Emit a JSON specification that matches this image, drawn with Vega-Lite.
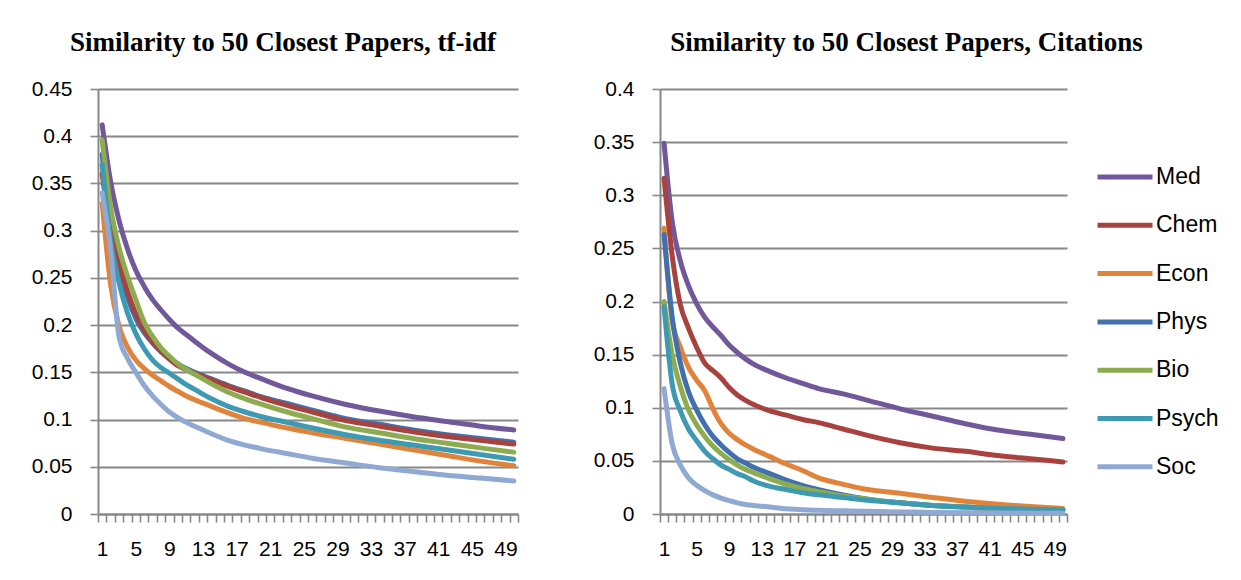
{
"$schema":"https://vega.github.io/schema/vega-lite/v6.json",
"padding":{"left":31,"top":29,"right":0,"bottom":0},
"background":"white",
"spacing":74,
"resolve":{"scale":{"color":"independent"},"legend":{"color":"independent"}},
"config":{
 "font":"Liberation Sans",
 "view":{"stroke":null},
 "axis":{"labelFont":"Liberation Sans","labelFontSize":21,"labelColor":"#000","gridColor":"#888","gridWidth":1.8,"domainColor":"#888","domainWidth":2,"tickColor":"#888","tickWidth":1.6,"title":null},
 "title":{"font":"Liberation Serif","fontSize":27,"fontWeight":"bold","color":"#000"}
},
"datasets":{
"tfidf":[
{"s":"Phys","r":1,"v":0.381},{"s":"Phys","r":2,"v":0.305},{"s":"Phys","r":3,"v":0.262},{"s":"Phys","r":4,"v":0.230},{"s":"Phys","r":5,"v":0.207},{"s":"Phys","r":6,"v":0.192},{"s":"Phys","r":7,"v":0.181},{"s":"Phys","r":8,"v":0.172},{"s":"Phys","r":9,"v":0.165},{"s":"Phys","r":10,"v":0.159},{"s":"Phys","r":11,"v":0.154},{"s":"Phys","r":12,"v":0.150},{"s":"Phys","r":14,"v":0.143},{"s":"Phys","r":16,"v":0.136},{"s":"Phys","r":18,"v":0.130},{"s":"Phys","r":20,"v":0.124},{"s":"Phys","r":23,"v":0.117},{"s":"Phys","r":26,"v":0.110},{"s":"Phys","r":30,"v":0.101},{"s":"Phys","r":34,"v":0.095},{"s":"Phys","r":38,"v":0.089},{"s":"Phys","r":42,"v":0.084},{"s":"Phys","r":46,"v":0.080},{"s":"Phys","r":50,"v":0.076},
{"s":"Med","r":1,"v":0.412},{"s":"Med","r":2,"v":0.352},{"s":"Med","r":3,"v":0.311},{"s":"Med","r":4,"v":0.281},{"s":"Med","r":5,"v":0.258},{"s":"Med","r":6,"v":0.241},{"s":"Med","r":7,"v":0.227},{"s":"Med","r":8,"v":0.216},{"s":"Med","r":9,"v":0.206},{"s":"Med","r":10,"v":0.197},{"s":"Med","r":11,"v":0.190},{"s":"Med","r":12,"v":0.183},{"s":"Med","r":14,"v":0.170},{"s":"Med","r":16,"v":0.159},{"s":"Med","r":18,"v":0.150},{"s":"Med","r":20,"v":0.143},{"s":"Med","r":23,"v":0.133},{"s":"Med","r":26,"v":0.125},{"s":"Med","r":30,"v":0.116},{"s":"Med","r":34,"v":0.109},{"s":"Med","r":38,"v":0.103},{"s":"Med","r":42,"v":0.098},{"s":"Med","r":46,"v":0.093},{"s":"Med","r":50,"v":0.089},
{"s":"Chem","r":1,"v":0.360},{"s":"Chem","r":2,"v":0.300},{"s":"Chem","r":3,"v":0.266},{"s":"Chem","r":4,"v":0.236},{"s":"Chem","r":5,"v":0.212},{"s":"Chem","r":6,"v":0.195},{"s":"Chem","r":7,"v":0.182},{"s":"Chem","r":8,"v":0.172},{"s":"Chem","r":9,"v":0.164},{"s":"Chem","r":10,"v":0.157},{"s":"Chem","r":11,"v":0.153},{"s":"Chem","r":12,"v":0.149},{"s":"Chem","r":14,"v":0.142},{"s":"Chem","r":16,"v":0.135},{"s":"Chem","r":18,"v":0.129},{"s":"Chem","r":20,"v":0.123},{"s":"Chem","r":23,"v":0.115},{"s":"Chem","r":26,"v":0.108},{"s":"Chem","r":30,"v":0.099},{"s":"Chem","r":34,"v":0.093},{"s":"Chem","r":38,"v":0.087},{"s":"Chem","r":42,"v":0.082},{"s":"Chem","r":46,"v":0.078},{"s":"Chem","r":50,"v":0.074},
{"s":"Econ","r":1,"v":0.329},{"s":"Econ","r":2,"v":0.243},{"s":"Econ","r":3,"v":0.199},{"s":"Econ","r":4,"v":0.177},{"s":"Econ","r":5,"v":0.163},{"s":"Econ","r":6,"v":0.154},{"s":"Econ","r":7,"v":0.147},{"s":"Econ","r":8,"v":0.141},{"s":"Econ","r":9,"v":0.135},{"s":"Econ","r":10,"v":0.130},{"s":"Econ","r":11,"v":0.125},{"s":"Econ","r":12,"v":0.121},{"s":"Econ","r":14,"v":0.114},{"s":"Econ","r":16,"v":0.107},{"s":"Econ","r":18,"v":0.101},{"s":"Econ","r":20,"v":0.097},{"s":"Econ","r":23,"v":0.091},{"s":"Econ","r":26,"v":0.086},{"s":"Econ","r":30,"v":0.080},{"s":"Econ","r":34,"v":0.074},{"s":"Econ","r":38,"v":0.068},{"s":"Econ","r":42,"v":0.062},{"s":"Econ","r":46,"v":0.056},{"s":"Econ","r":50,"v":0.0512},
{"s":"Bio","r":1,"v":0.396},{"s":"Bio","r":2,"v":0.325},{"s":"Bio","r":3,"v":0.282},{"s":"Bio","r":4,"v":0.252},{"s":"Bio","r":5,"v":0.227},{"s":"Bio","r":6,"v":0.203},{"s":"Bio","r":7,"v":0.188},{"s":"Bio","r":8,"v":0.176},{"s":"Bio","r":9,"v":0.167},{"s":"Bio","r":10,"v":0.159},{"s":"Bio","r":11,"v":0.153},{"s":"Bio","r":12,"v":0.148},{"s":"Bio","r":14,"v":0.138},{"s":"Bio","r":16,"v":0.129},{"s":"Bio","r":18,"v":0.122},{"s":"Bio","r":20,"v":0.116},{"s":"Bio","r":23,"v":0.108},{"s":"Bio","r":26,"v":0.101},{"s":"Bio","r":30,"v":0.092},{"s":"Bio","r":34,"v":0.086},{"s":"Bio","r":38,"v":0.080},{"s":"Bio","r":42,"v":0.075},{"s":"Bio","r":46,"v":0.070},{"s":"Bio","r":50,"v":0.0655},
{"s":"Psych","r":1,"v":0.370},{"s":"Psych","r":2,"v":0.290},{"s":"Psych","r":3,"v":0.245},{"s":"Psych","r":4,"v":0.213},{"s":"Psych","r":5,"v":0.191},{"s":"Psych","r":6,"v":0.175},{"s":"Psych","r":7,"v":0.163},{"s":"Psych","r":8,"v":0.155},{"s":"Psych","r":9,"v":0.149},{"s":"Psych","r":10,"v":0.143},{"s":"Psych","r":11,"v":0.137},{"s":"Psych","r":12,"v":0.132},{"s":"Psych","r":14,"v":0.122},{"s":"Psych","r":16,"v":0.114},{"s":"Psych","r":18,"v":0.108},{"s":"Psych","r":20,"v":0.103},{"s":"Psych","r":23,"v":0.097},{"s":"Psych","r":26,"v":0.091},{"s":"Psych","r":30,"v":0.084},{"s":"Psych","r":34,"v":0.078},{"s":"Psych","r":38,"v":0.073},{"s":"Psych","r":42,"v":0.068},{"s":"Psych","r":46,"v":0.063},{"s":"Psych","r":50,"v":0.058},
{"s":"Soc","r":1,"v":0.340},{"s":"Soc","r":2,"v":0.280},{"s":"Soc","r":3,"v":0.188},{"s":"Soc","r":4,"v":0.165},{"s":"Soc","r":5,"v":0.150},{"s":"Soc","r":6,"v":0.136},{"s":"Soc","r":7,"v":0.125},{"s":"Soc","r":8,"v":0.116},{"s":"Soc","r":9,"v":0.108},{"s":"Soc","r":10,"v":0.102},{"s":"Soc","r":11,"v":0.097},{"s":"Soc","r":12,"v":0.093},{"s":"Soc","r":14,"v":0.085},{"s":"Soc","r":16,"v":0.078},{"s":"Soc","r":18,"v":0.073},{"s":"Soc","r":20,"v":0.069},{"s":"Soc","r":23,"v":0.064},{"s":"Soc","r":26,"v":0.059},{"s":"Soc","r":30,"v":0.054},{"s":"Soc","r":34,"v":0.049},{"s":"Soc","r":38,"v":0.045},{"s":"Soc","r":42,"v":0.041},{"s":"Soc","r":46,"v":0.038},{"s":"Soc","r":50,"v":0.035}
],
"cit":[
{"s":"Med","r":1,"v":0.349},{"s":"Med","r":2,"v":0.275},{"s":"Med","r":3,"v":0.238},{"s":"Med","r":4,"v":0.215},{"s":"Med","r":5,"v":0.198},{"s":"Med","r":6,"v":0.185},{"s":"Med","r":7,"v":0.176},{"s":"Med","r":8,"v":0.168},{"s":"Med","r":9,"v":0.159},{"s":"Med","r":10,"v":0.152},{"s":"Med","r":11,"v":0.146},{"s":"Med","r":12,"v":0.141},{"s":"Med","r":14,"v":0.134},{"s":"Med","r":16,"v":0.128},{"s":"Med","r":18,"v":0.123},{"s":"Med","r":20,"v":0.118},{"s":"Med","r":23,"v":0.113},{"s":"Med","r":26,"v":0.107},{"s":"Med","r":30,"v":0.099},{"s":"Med","r":34,"v":0.092},{"s":"Med","r":38,"v":0.085},{"s":"Med","r":42,"v":0.079},{"s":"Med","r":46,"v":0.075},{"s":"Med","r":50,"v":0.071},
{"s":"Chem","r":1,"v":0.316},{"s":"Chem","r":2,"v":0.243},{"s":"Chem","r":3,"v":0.197},{"s":"Chem","r":4,"v":0.175},{"s":"Chem","r":5,"v":0.157},{"s":"Chem","r":6,"v":0.142},{"s":"Chem","r":7,"v":0.135},{"s":"Chem","r":8,"v":0.128},{"s":"Chem","r":9,"v":0.119},{"s":"Chem","r":10,"v":0.112},{"s":"Chem","r":11,"v":0.107},{"s":"Chem","r":12,"v":0.103},{"s":"Chem","r":14,"v":0.097},{"s":"Chem","r":16,"v":0.093},{"s":"Chem","r":18,"v":0.089},{"s":"Chem","r":20,"v":0.086},{"s":"Chem","r":23,"v":0.080},{"s":"Chem","r":26,"v":0.074},{"s":"Chem","r":30,"v":0.067},{"s":"Chem","r":34,"v":0.062},{"s":"Chem","r":38,"v":0.059},{"s":"Chem","r":42,"v":0.055},{"s":"Chem","r":46,"v":0.052},{"s":"Chem","r":50,"v":0.049},
{"s":"Econ","r":1,"v":0.269},{"s":"Econ","r":2,"v":0.182},{"s":"Econ","r":3,"v":0.157},{"s":"Econ","r":4,"v":0.138},{"s":"Econ","r":5,"v":0.126},{"s":"Econ","r":6,"v":0.116},{"s":"Econ","r":7,"v":0.099},{"s":"Econ","r":8,"v":0.085},{"s":"Econ","r":9,"v":0.076},{"s":"Econ","r":10,"v":0.070},{"s":"Econ","r":11,"v":0.065},{"s":"Econ","r":12,"v":0.061},{"s":"Econ","r":14,"v":0.054},{"s":"Econ","r":16,"v":0.047},{"s":"Econ","r":18,"v":0.041},{"s":"Econ","r":20,"v":0.034},{"s":"Econ","r":23,"v":0.028},{"s":"Econ","r":26,"v":0.023},{"s":"Econ","r":30,"v":0.0195},{"s":"Econ","r":34,"v":0.0155},{"s":"Econ","r":38,"v":0.012},{"s":"Econ","r":42,"v":0.0092},{"s":"Econ","r":46,"v":0.007},{"s":"Econ","r":50,"v":0.0052},
{"s":"Phys","r":1,"v":0.263},{"s":"Phys","r":2,"v":0.185},{"s":"Phys","r":3,"v":0.142},{"s":"Phys","r":4,"v":0.115},{"s":"Phys","r":5,"v":0.098},{"s":"Phys","r":6,"v":0.084},{"s":"Phys","r":7,"v":0.073},{"s":"Phys","r":8,"v":0.065},{"s":"Phys","r":9,"v":0.058},{"s":"Phys","r":10,"v":0.052},{"s":"Phys","r":11,"v":0.048},{"s":"Phys","r":12,"v":0.044},{"s":"Phys","r":14,"v":0.038},{"s":"Phys","r":16,"v":0.032},{"s":"Phys","r":18,"v":0.027},{"s":"Phys","r":20,"v":0.023},{"s":"Phys","r":23,"v":0.018},{"s":"Phys","r":26,"v":0.014},{"s":"Phys","r":30,"v":0.0105},{"s":"Phys","r":34,"v":0.008},{"s":"Phys","r":38,"v":0.0065},{"s":"Phys","r":42,"v":0.005},{"s":"Phys","r":46,"v":0.004},{"s":"Phys","r":50,"v":0.0035},
{"s":"Bio","r":1,"v":0.200},{"s":"Bio","r":2,"v":0.150},{"s":"Bio","r":3,"v":0.120},{"s":"Bio","r":4,"v":0.098},{"s":"Bio","r":5,"v":0.084},{"s":"Bio","r":6,"v":0.073},{"s":"Bio","r":7,"v":0.064},{"s":"Bio","r":8,"v":0.057},{"s":"Bio","r":9,"v":0.051},{"s":"Bio","r":10,"v":0.046},{"s":"Bio","r":11,"v":0.042},{"s":"Bio","r":12,"v":0.039},{"s":"Bio","r":14,"v":0.033},{"s":"Bio","r":16,"v":0.028},{"s":"Bio","r":18,"v":0.024},{"s":"Bio","r":20,"v":0.021},{"s":"Bio","r":23,"v":0.017},{"s":"Bio","r":26,"v":0.014},{"s":"Bio","r":30,"v":0.0105},{"s":"Bio","r":34,"v":0.008},{"s":"Bio","r":38,"v":0.0065},{"s":"Bio","r":42,"v":0.005},{"s":"Bio","r":46,"v":0.004},{"s":"Bio","r":50,"v":0.0035},
{"s":"Psych","r":1,"v":0.195},{"s":"Psych","r":2,"v":0.122},{"s":"Psych","r":3,"v":0.097},{"s":"Psych","r":4,"v":0.080},{"s":"Psych","r":5,"v":0.069},{"s":"Psych","r":6,"v":0.059},{"s":"Psych","r":7,"v":0.052},{"s":"Psych","r":8,"v":0.046},{"s":"Psych","r":9,"v":0.042},{"s":"Psych","r":10,"v":0.038},{"s":"Psych","r":11,"v":0.035},{"s":"Psych","r":12,"v":0.031},{"s":"Psych","r":14,"v":0.026},{"s":"Psych","r":16,"v":0.023},{"s":"Psych","r":18,"v":0.020},{"s":"Psych","r":20,"v":0.018},{"s":"Psych","r":23,"v":0.0155},{"s":"Psych","r":26,"v":0.013},{"s":"Psych","r":30,"v":0.0105},{"s":"Psych","r":34,"v":0.008},{"s":"Psych","r":38,"v":0.0065},{"s":"Psych","r":42,"v":0.0052},{"s":"Psych","r":46,"v":0.0045},{"s":"Psych","r":50,"v":0.004},
{"s":"Soc","r":1,"v":0.118},{"s":"Soc","r":2,"v":0.066},{"s":"Soc","r":3,"v":0.046},{"s":"Soc","r":4,"v":0.034},{"s":"Soc","r":5,"v":0.027},{"s":"Soc","r":6,"v":0.022},{"s":"Soc","r":7,"v":0.018},{"s":"Soc","r":8,"v":0.015},{"s":"Soc","r":9,"v":0.0125},{"s":"Soc","r":10,"v":0.0105},{"s":"Soc","r":11,"v":0.009},{"s":"Soc","r":12,"v":0.008},{"s":"Soc","r":14,"v":0.0065},{"s":"Soc","r":16,"v":0.005},{"s":"Soc","r":18,"v":0.004},{"s":"Soc","r":20,"v":0.0035},{"s":"Soc","r":23,"v":0.003},{"s":"Soc","r":26,"v":0.0025},{"s":"Soc","r":30,"v":0.002},{"s":"Soc","r":34,"v":0.0015},{"s":"Soc","r":38,"v":0.0012},{"s":"Soc","r":42,"v":0.001},{"s":"Soc","r":46,"v":0.0008},{"s":"Soc","r":50,"v":0.0006}
]
},
"hconcat":[
{
 "width":420,"height":425,
 "title":{"text":"Similarity to 50 Closest Papers, tf-idf","anchor":"middle","frame":"group","dx":-25,"offset":0,"baseline":"alphabetic"},
 "data":{"name":"tfidf"},
 "resolve":{"axis":{"x":"independent"}},
 "layer":[
  {"mark":{"type":"line","strokeWidth":5,"strokeCap":"round","strokeJoin":"round","interpolate":"monotone"},
   "encoding":{
    "x":{"field":"r","type":"quantitative","scale":{"domain":[0.5,50.5],"nice":false,"zero":false},
     "axis":{"orient":"bottom","values":[0.5,1.5,2.5,3.5,4.5,5.5,6.5,7.5,8.5,9.5,10.5,11.5,12.5,13.5,14.5,15.5,16.5,17.5,18.5,19.5,20.5,21.5,22.5,23.5,24.5,25.5,26.5,27.5,28.5,29.5,30.5,31.5,32.5,33.5,34.5,35.5,36.5,37.5,38.5,39.5,40.5,41.5,42.5,43.5,44.5,45.5,46.5,47.5,48.5,49.5,50.5],"labels":false,"grid":false,"ticks":true,"tickSize":8,"domain":true}},
    "y":{"field":"v","type":"quantitative","scale":{"domain":[0,0.45],"nice":false,"zero":true},
     "axis":{"values":[0,0.05,0.1,0.15,0.2,0.25,0.3,0.35,0.4,0.45],"format":".2~f","tickSize":8,"labelPadding":18,"grid":true,"domain":true}},
    "color":{"field":"s","type":"nominal","scale":{"domain":["Med","Chem","Econ","Phys","Bio","Psych","Soc"],"range":["#71589B","#A8423F","#E0843B","#4270AE","#8DAC4F","#3E9AB3","#8FA9D3"]},"legend":null}
   }},
  {"mark":{"type":"point","opacity":0,"size":1},
   "encoding":{
    "x":{"field":"r","type":"quantitative","scale":{"domain":[0.5,50.5],"nice":false,"zero":false},
     "axis":{"orient":"bottom","values":[1,5,9,13,17,21,25,29,33,37,41,45,49],"domain":false,"ticks":false,"tickSize":0,"grid":false,"labelPadding":24,"labelFlush":false,"labelOverlap":false}}
   }}
 ]
},
{
 "width":407,"height":425,
 "title":{"text":"Similarity to 50 Closest Papers, Citations","anchor":"middle","frame":"group","dx":43,"offset":0,"baseline":"alphabetic"},
 "data":{"name":"cit"},
 "resolve":{"axis":{"x":"independent"}},
 "layer":[
  {"mark":{"type":"line","strokeWidth":5,"strokeCap":"round","strokeJoin":"round","interpolate":"monotone"},
   "encoding":{
    "x":{"field":"r","type":"quantitative","scale":{"domain":[0.5,50.5],"nice":false,"zero":false},
     "axis":{"orient":"bottom","values":[0.5,1.5,2.5,3.5,4.5,5.5,6.5,7.5,8.5,9.5,10.5,11.5,12.5,13.5,14.5,15.5,16.5,17.5,18.5,19.5,20.5,21.5,22.5,23.5,24.5,25.5,26.5,27.5,28.5,29.5,30.5,31.5,32.5,33.5,34.5,35.5,36.5,37.5,38.5,39.5,40.5,41.5,42.5,43.5,44.5,45.5,46.5,47.5,48.5,49.5,50.5],"labels":false,"grid":false,"ticks":true,"tickSize":8,"domain":true}},
    "y":{"field":"v","type":"quantitative","scale":{"domain":[0,0.4],"nice":false,"zero":true},
     "axis":{"values":[0,0.05,0.1,0.15,0.2,0.25,0.3,0.35,0.4],"format":".2~f","tickSize":8,"labelPadding":18,"grid":true,"domain":true}},
    "color":{"field":"s","type":"nominal","scale":{"domain":["Med","Chem","Econ","Phys","Bio","Psych","Soc"],"range":["#71589B","#A8423F","#E0843B","#4270AE","#8DAC4F","#3E9AB3","#8FA9D3"]},
     "legend":{"orient":"none","legendX":435,"legendY":76,"title":null,"symbolType":"stroke","symbolSize":3025,"symbolStrokeWidth":5,"labelFont":"Liberation Sans","labelFontSize":23,"labelColor":"#000","clipHeight":24,"rowPadding":24.3,"labelOffset":1,"padding":0}}
   }},
  {"mark":{"type":"point","opacity":0,"size":1},
   "encoding":{
    "x":{"field":"r","type":"quantitative","scale":{"domain":[0.5,50.5],"nice":false,"zero":false},
     "axis":{"orient":"bottom","values":[1,5,9,13,17,21,25,29,33,37,41,45,49],"domain":false,"ticks":false,"tickSize":0,"grid":false,"labelPadding":24,"labelFlush":false,"labelOverlap":false}}
   }}
 ]
}
]
}
